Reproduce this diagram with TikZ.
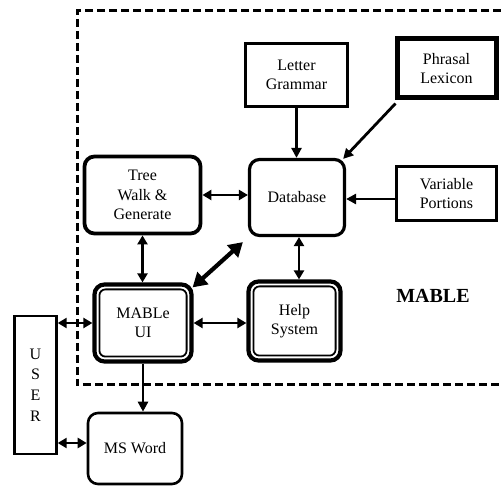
\documentclass[tikz,border=0pt]{standalone}
\usepackage{fontspec}
\setmainfont{Liberation Serif}
\usetikzlibrary{arrows.meta}
\begin{document}
\begin{tikzpicture}[x=1pt,y=-1pt,
  lbl/.style={font=\fontsize{16}{19.5}\selectfont, align=center, inner sep=0pt},
  sq/.style={draw, line width=3.2pt, lbl},
  rnd/.style={draw, line width=3.2pt, rounded corners=10pt, lbl},
  conn/.style={line width=2.8pt, -{Triangle[length=10pt,width=10pt]}},
  conn2/.style={line width=2.8pt, {Triangle[length=9pt,width=10pt]}-{Triangle[length=9pt,width=10pt]}},
  bigconn/.style={line width=4.2pt, {Triangle[length=14pt,width=16pt]}-{Triangle[length=14pt,width=16pt]}},
  border/.style={line width=3pt, dash pattern=on 8pt off 4pt},
  innerline/.style={line width=1.8pt, rounded corners=6pt},
]
\useasboundingbox (0,0) rectangle (501,486);

% MABLE boundary
\draw[border] (501,11) -- (77,11) -- (77,385) -- (501,385);
\node[font=\fontsize{20}{24}\selectfont\bfseries, inner sep=0pt] (mable) at (433,296) {MABLE};

% boxes
\node[sq, minimum width=102pt, minimum height=63pt] (lg) at (296.5,75) {Letter\\Grammar};
\node[sq, line width=5pt, minimum width=99pt, minimum height=59pt] (pl) at (446.5,68.5) {Phrasal\\Lexicon};
\node[rnd, minimum width=95pt, minimum height=76pt] (db) at (297,197.5) {Database};
\node[sq, minimum width=100pt, minimum height=54pt] (vp) at (446.5,193.5) {Variable\\Portions};
\node[rnd, line width=3.8pt, minimum width=116pt, minimum height=77pt] (tw) at (142.5,195) {Tree\\Walk \&\\Generate};
\node[rnd, line width=4.2pt, minimum width=97pt, minimum height=77pt] (ui) at (143,323) {MABLe\\UI};
\node[rnd, line width=4.2pt, minimum width=92pt, minimum height=79pt] (hs) at (294.5,321) {Help\\System};
\node[sq, line width=2.4pt, minimum width=42pt, minimum height=138pt] (user) at (35.5,385) {};
\node[lbl, align=center, font=\fontsize{16}{20.7}\selectfont] (usertext) at (user.center) {U\\S\\E\\R};
\node[rnd, line width=2.6pt, minimum width=94pt, minimum height=71pt] (ms) at (135,448.5) {MS Word};

% inner borders of double boxes
\draw[innerline] ([xshift=7pt,yshift=-7pt]ui.north west) rectangle ([xshift=-7pt,yshift=7pt]ui.south east);
\draw[innerline] ([xshift=7pt,yshift=-7pt]hs.north west) rectangle ([xshift=-7pt,yshift=7pt]hs.south east);

% connectors
\draw[conn] (lg.south) -- (lg.south |- db.north);
\draw[conn] ([xshift=1pt,yshift=-3pt]pl.south west) -- ([xshift=-3pt,yshift=-1pt]db.north east);
\draw[conn] ([yshift=-5.5pt]vp.west) -- ([yshift=-5.5pt]vp.west -| db.east);
\draw[conn2] (tw.east) -- (tw.east -| db.west);
\draw[conn2] (tw.south) -- (tw.south |- ui.north);
\draw[conn2] ([xshift=2pt]db.south) -- ([xshift=2pt]db.south |- hs.north);
\draw[conn2] (ui.east) -- (ui.east -| hs.west);
\draw[conn2] (ui.west -| user.east) -- (ui.west);
\draw[conn] (ui.south) -- (ui.south |- ms.north);
\draw[conn2] ([yshift=5.5pt]ms.west -| user.east) -- ([yshift=5.5pt]ms.west);
\draw[bigconn] ([xshift=-1pt,yshift=-5pt]ui.north east) -- ([xshift=-5pt,yshift=-5pt]db.south west);
\end{tikzpicture}
\end{document}
